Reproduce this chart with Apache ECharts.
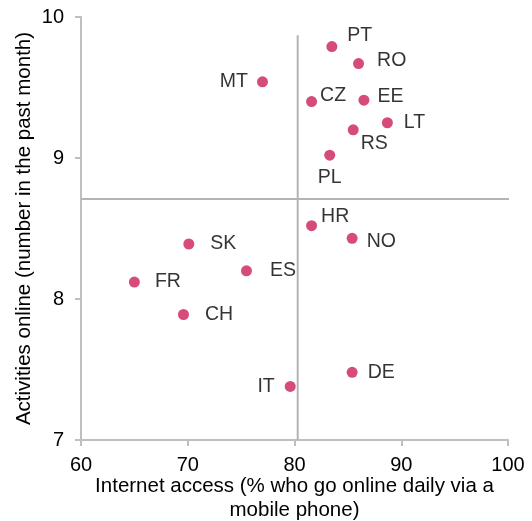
<!DOCTYPE html>
<html>
<head>
<meta charset="utf-8">
<script src="https://cdn.jsdelivr.net/npm/echarts@6/dist/echarts.min.js"></script>
<style>
  html, body { margin: 0; padding: 0; background: #fff; }
  #main { width: 532px; height: 521px; }
</style>
</head>
<body>
<div id="main"></div>
<script>
// country codes and values
const countries = ['PT', 'RO', 'MT', 'CZ', 'EE', 'LT', 'RS', 'PL', 'HR', 'NO', 'SK', 'ES', 'FR', 'CH', 'DE', 'IT']
const internetAccess = [83.5, 86.0, 77.0, 81.6, 86.5, 88.7, 85.5, 83.3, 81.6, 85.4, 70.1, 75.5, 65.0, 69.6, 85.4, 79.6]
const activities = [9.79, 9.67, 9.54, 9.40, 9.41, 9.25, 9.20, 9.02, 8.52, 8.43, 8.39, 8.20, 8.12, 7.89, 7.48, 7.38]

// quadrant split lines
const splitX = 80.3
const splitY = 8.71

// where each label sits relative to its dot
const labelStyle = {
  PT: { position: 'right', distance: 10, offset: [0, -11] },
  RO: { position: 'right', distance: 13, offset: [0, -3] },
  MT: { position: 'left', distance: 9 },
  CZ: { position: 'right', distance: 3, offset: [0, -6] },
  EE: { position: 'right', distance: 8, offset: [0, -4] },
  LT: { position: 'right', distance: 11 },
  RS: { position: 'right', distance: 2, offset: [0, 14] },
  PL: { position: 'bottom', distance: 7 },
  HR: { position: 'right', distance: 4, offset: [0, -9] },
  NO: { position: 'right', distance: 9, offset: [0, 3] },
  SK: { position: 'right', distance: 16 },
  ES: { position: 'right', distance: 18 },
  FR: { position: 'right', distance: 15 },
  CH: { position: 'right', distance: 16 },
  DE: { position: 'right', distance: 10 },
  IT: { position: 'left', distance: 10 }
}

const font = 'Liberation Sans, Arial, sans-serif'
const axisGrey = '#bfbfbf'

const points = countries.map((c, i) => ({
  name: c,
  value: [internetAccess[i], activities[i]],
  label: Object.assign({ show: true }, labelStyle[c])
}))

const chart = echarts.init(document.getElementById('main'))
chart.setOption({
  animation: false,
  grid: { left: 81, right: 24, top: 17, bottom: 81, containLabel: false, outerBoundsMode: 'none' },
  xAxis: {
    type: 'value',
    min: 60, max: 100, interval: 10,
    name: 'Internet access (% who go online daily via a\nmobile phone)',
    nameLocation: 'middle',
    nameGap: 34,
    nameMoveOverlap: false,
    nameTextStyle: { color: '#000', fontSize: 20.5, fontFamily: font, lineHeight: 24, verticalAlign: 'top' },
    axisLine: { lineStyle: { color: axisGrey, width: 2 } },
    axisTick: { show: true, length: 6, lineStyle: { color: axisGrey, width: 2 } },
    axisLabel: { color: '#000', fontSize: 20, fontFamily: font, margin: 15 },
    splitLine: { show: false }
  },
  yAxis: {
    type: 'value',
    min: 7, max: 10, interval: 1,
    name: 'Activities online (number in the past month)',
    nameLocation: 'middle',
    nameGap: 46,
    nameMoveOverlap: false,
    nameTextStyle: { color: '#000', fontSize: 20.5, fontFamily: font },
    axisLine: { show: true, lineStyle: { color: axisGrey, width: 2 } },
    axisTick: { show: true, length: 6, lineStyle: { color: axisGrey, width: 2 } },
    axisLabel: { color: '#000', fontSize: 20, fontFamily: font, margin: 17 },
    splitLine: { show: false }
  },
  series: [
    {
      type: 'line',
      data: [[splitX, 9.87], [splitX, 7]],
      symbol: 'none',
      clip: false,
      silent: true,
      lineStyle: { color: '#b4b4b4', width: 2 }
    },
    {
      type: 'line',
      data: [[60, splitY], [101, splitY]],
      symbol: 'none',
      clip: false,
      silent: true,
      lineStyle: { color: '#b4b4b4', width: 2 }
    },
    {
      type: 'scatter',
      data: points,
      symbolSize: 11,
      itemStyle: { color: '#cc1f57' },
      label: {
        formatter: p => p.name,
        color: '#000',
        fontSize: 19.5,
        fontFamily: font
      },
      z: 5
    }
  ]
})
</script>
</body>
</html>
